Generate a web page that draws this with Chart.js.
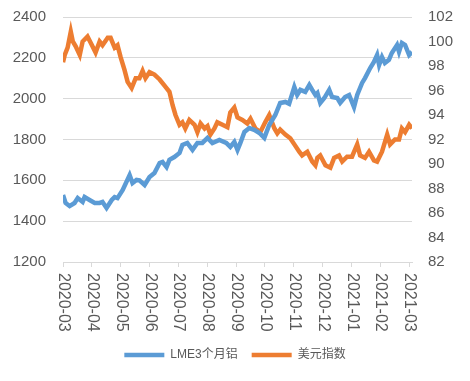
<!DOCTYPE html>
<html>
<head>
<meta charset="utf-8">
<script src="https://cdn.jsdelivr.net/npm/chart.js@4.4.1/dist/chart.umd.min.js"></script>
<style>
html,body{margin:0;padding:0;background:#fff;}
#wrap{width:470px;height:381px;}
</style>
</head>
<body>
<div id="wrap"><canvas id="c" width="470" height="381"></canvas></div>
<script>
// Month tick labels (x position = months since 2020-03)
const monthLabels = ['2020-03','2020-04','2020-05','2020-06','2020-07','2020-08','2020-09','2020-10','2020-11','2020-12','2021-01','2021-02','2021-03'];

// LME3个月铝 (left axis)
const alX = [0,0.09,0.23,0.40,0.51,0.68,0.75,0.92,1.10,1.27,1.37,1.51,1.69,1.79,1.89,2.07,2.31,2.41,2.55,2.65,2.83,3.00,3.17,3.35,3.45,3.59,3.69,3.86,4.04,4.14,4.31,4.49,4.66,4.83,5.01,5.18,5.42,5.66,5.80,5.94,6.05,6.15,6.29,6.46,6.63,6.81,6.98,7.15,7.36,7.53,7.71,7.84,8.02,8.12,8.23,8.40,8.54,8.64,8.75,8.82,8.92,9.06,9.23,9.33,9.51,9.61,9.78,9.92,10.09,10.20,10.37,10.47,10.65,10.78,10.89,10.96,11.06,11.16,11.30,11.40,11.58,11.65,11.75,11.86,12.00,12.10];
const alY = [1528,1489,1474,1489,1513,1494,1518,1504,1489,1489,1494,1465,1504,1518,1513,1553,1626,1587,1602,1600,1577,1616,1636,1685,1690,1665,1700,1714,1734,1773,1783,1749,1783,1783,1808,1783,1798,1783,1764,1788,1749,1783,1837,1856,1847,1832,1808,1871,1920,1979,1984,1975,2057,2018,2043,2033,2067,2043,2018,2028,1979,2003,2043,2008,2003,1979,2008,2018,1959,2018,2077,2101,2150,2180,2214,2165,2204,2175,2190,2224,2263,2229,2273,2263,2214,2229];

// 美元指数 (right axis)
const usdX = [0,0.06,0.16,0.27,0.34,0.44,0.58,0.68,0.85,0.96,1.13,1.27,1.37,1.55,1.65,1.79,1.89,2.00,2.13,2.24,2.38,2.52,2.65,2.76,2.86,3.00,3.17,3.35,3.52,3.69,3.80,3.90,4.04,4.14,4.24,4.38,4.56,4.66,4.77,4.91,5.01,5.11,5.25,5.35,5.53,5.70,5.80,5.94,6.05,6.22,6.39,6.50,6.67,6.84,7.01,7.15,7.33,7.43,7.53,7.71,7.88,8.05,8.19,8.29,8.47,8.64,8.75,8.82,8.92,9.10,9.27,9.40,9.57,9.68,9.85,10.02,10.20,10.30,10.47,10.61,10.78,10.89,11.06,11.24,11.34,11.51,11.65,11.75,11.86,12.00,12.10];
const usdY = [98.3,98.9,99.5,100.8,100.0,99.6,98.9,100.0,100.4,99.9,99.1,100.0,99.7,100.3,100.3,99.5,99.7,98.7,97.7,96.7,96.2,97.0,97.0,97.6,97.0,97.5,97.3,96.9,96.4,95.9,94.8,94.0,93.2,93.4,92.9,93.6,93.2,92.6,93.3,92.9,93.1,92.4,92.9,93.4,93.2,93.0,94.2,94.6,93.8,93.6,93.3,93.7,92.9,92.6,93.4,94.0,92.9,92.5,92.8,92.4,92.1,91.5,91.0,90.7,91.0,90.2,89.9,90.5,90.7,89.9,89.7,90.5,90.7,90.2,90.6,90.6,91.6,90.7,90.5,91.0,90.3,90.2,91.0,92.4,91.6,92.0,92.0,92.9,92.6,93.2,92.9];

const FONT = "'Liberation Sans', 'Noto Sans CJK SC', sans-serif";
const TXT = '#595959';
const GRID = '#d9d9d9';

// Draws the x tick labels reading top-to-bottom (rotated clockwise), like the reference
const xLabelPlugin = {
  id: 'xLabels',
  afterDraw(chart) {
    const sx = chart.scales.x;
    const ctx = chart.ctx;
    ctx.save();
    ctx.fillStyle = TXT;
    ctx.font = "16px " + FONT;
    ctx.textAlign = 'left';
    ctx.textBaseline = 'middle';
    monthLabels.forEach((lab, i) => {
      const px = sx.getPixelForValue(i);
      ctx.save();
      ctx.translate(px + 0.5, sx.top + 11);
      ctx.rotate(Math.PI / 2);
      ctx.fillText(lab, 0, 0);
      ctx.restore();
    });
    ctx.restore();
  }
};

const fixV = (w) => (s) => { s.width = w; s.paddingTop = 0; s.paddingBottom = 0; };

new Chart(document.getElementById('c'), {
  type: 'line',
  data: {
    datasets: [
      { label: 'LME3个月铝', data: alX.map((x, i) => ({x: x, y: alY[i]})), borderColor: '#5B9BD5', backgroundColor: '#5B9BD5', borderWidth: 4.5, pointRadius: 0, tension: 0, yAxisID: 'y' },
      { label: '美元指数', data: usdX.map((x, i) => ({x: x, y: usdY[i]})), borderColor: '#ED7D31', backgroundColor: '#ED7D31', borderWidth: 4.5, pointRadius: 0, tension: 0, yAxisID: 'y1' }
    ]
  },
  options: {
    responsive: false,
    animation: false,
    layout: { padding: { top: 17, bottom: 10, left: 0, right: 0 } },
    plugins: {
      legend: { position: 'bottom', labels: { usePointStyle: true, pointStyle: 'line', pointStyleWidth: 40, boxWidth: 40, font: { size: 12, family: FONT }, color: TXT, padding: 14 } },
      tooltip: { enabled: false }
    },
    scales: {
      x: {
        type: 'linear', min: 0, max: 12.1,
        afterBuildTicks: (s) => { s.ticks = monthLabels.map((l, i) => ({ value: i })); },
        afterFit: (s) => { s.height = 73; },
        ticks: { autoSkip: false, minRotation: 90, maxRotation: 90, color: 'rgba(0,0,0,0)', font: { size: 2, family: FONT }, callback: (v) => monthLabels[Math.round(v)] },
        grid: { display: true, drawOnChartArea: false, drawTicks: true, tickLength: 5, color: GRID },
        border: { display: true, color: GRID, width: 1 }
      },
      y: {
        position: 'left', min: 1200, max: 2400,
        afterFit: fixV(63),
        ticks: { stepSize: 200, color: TXT, font: { size: 15, family: FONT }, padding: 17, callback: (v) => String(v) },
        grid: { color: GRID, drawTicks: false },
        border: { display: false }
      },
      y1: {
        position: 'right', min: 82, max: 102,
        afterFit: fixV(58),
        ticks: { stepSize: 2, color: TXT, font: { size: 15, family: FONT }, padding: 16, callback: (v) => String(v) },
        grid: { display: false, drawTicks: false },
        border: { display: false }
      }
    }
  },
  plugins: [xLabelPlugin]
});
</script>
</body>
</html>
